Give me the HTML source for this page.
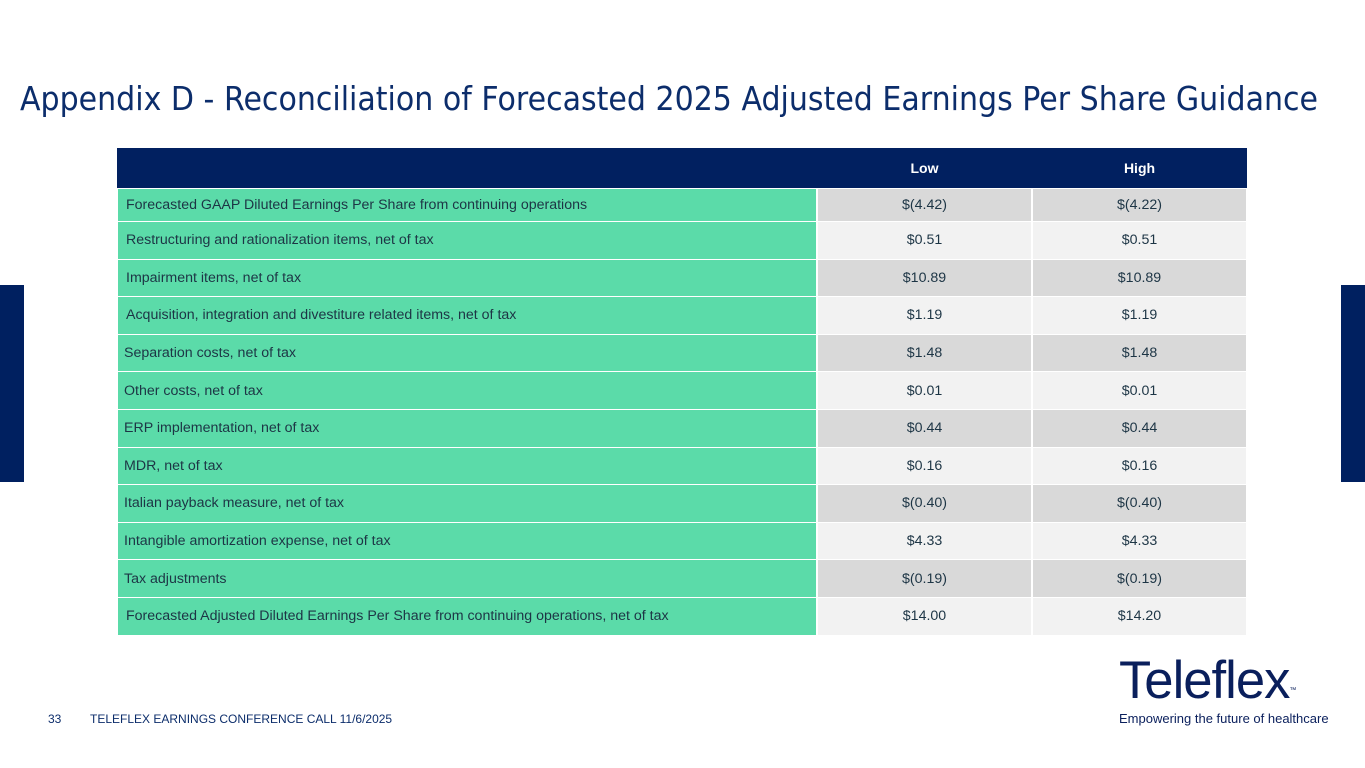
<!DOCTYPE html>
<html><head><meta charset="utf-8"><style>
body{margin:0;width:1365px;height:768px;background:#fff;position:relative;overflow:hidden;font-family:"Liberation Sans",sans-serif}
.title{position:absolute;left:20px;top:79px;font-size:33px;color:#0c2d6b;white-space:nowrap;font-family:"DejaVu Sans","Liberation Sans",sans-serif;transform-origin:0 0}
.bar{position:absolute;background:#002060;width:24px;top:285px;height:197px}
table{position:absolute;left:116px;top:148px;border-collapse:collapse;font-size:14.2px;color:#1d3545}
td{padding:0;height:36.6px;border:2px solid #fff;border-top-width:1px;border-bottom-width:1px;box-sizing:content-box}
tr.first td{height:32px}
th{background:#012060;color:#fff;height:38px;font-weight:bold;font-size:14px;border:none}
td.l{background:#5bdba9;width:688px;padding-left:8px}
td.v{width:213px;text-align:center}
tr:nth-child(even) td.v{background:#d9d9d9}
tr:nth-child(odd) td.v{background:#f2f2f2}
.foot{position:absolute;top:712px;font-size:12px;color:#0c2d6b}
</style></head><body>
<div class="title" id="ttl">Appendix D - Reconciliation of Forecasted 2025 Adjusted Earnings Per Share Guidance</div>
<div class="bar" style="left:0"></div>
<div class="bar" style="left:1341px"></div>
<table>
<tr><th style="width:698px"></th><th>Low</th><th>High</th></tr>
<tr class="first"><td class="l">Forecasted GAAP Diluted Earnings Per Share from continuing operations</td><td class="v">$(4.42)</td><td class="v">$(4.22)</td></tr>
<tr><td class="l">Restructuring and rationalization items, net of tax</td><td class="v">$0.51</td><td class="v">$0.51</td></tr>
<tr><td class="l">Impairment items, net of tax</td><td class="v">$10.89</td><td class="v">$10.89</td></tr>
<tr><td class="l">Acquisition, integration and divestiture related items, net of tax</td><td class="v">$1.19</td><td class="v">$1.19</td></tr>
<tr><td class="l" style="padding-left:6px">Separation costs, net of tax</td><td class="v">$1.48</td><td class="v">$1.48</td></tr>
<tr><td class="l" style="padding-left:6px">Other costs, net of tax</td><td class="v">$0.01</td><td class="v">$0.01</td></tr>
<tr><td class="l" style="padding-left:6px">ERP implementation, net of tax</td><td class="v">$0.44</td><td class="v">$0.44</td></tr>
<tr><td class="l" style="padding-left:6px">MDR, net of tax</td><td class="v">$0.16</td><td class="v">$0.16</td></tr>
<tr><td class="l" style="padding-left:6px">Italian payback measure, net of tax</td><td class="v">$(0.40)</td><td class="v">$(0.40)</td></tr>
<tr><td class="l" style="padding-left:6px">Intangible amortization expense, net of tax</td><td class="v">$4.33</td><td class="v">$4.33</td></tr>
<tr><td class="l" style="padding-left:6px">Tax adjustments</td><td class="v">$(0.19)</td><td class="v">$(0.19)</td></tr>
<tr><td class="l">Forecasted Adjusted Diluted Earnings Per Share from continuing operations, net of tax</td><td class="v">$14.00</td><td class="v">$14.20</td></tr>
</table>
<div class="foot" style="left:48px">33</div>
<div class="foot" style="left:90px">TELEFLEX EARNINGS CONFERENCE CALL 11/6/2025</div>
<div style="position:absolute;left:1119px;top:654px;color:#0a1f5c">
<div id="logo" style="font-size:53px;font-weight:normal;letter-spacing:-1px;line-height:54px;white-space:nowrap;transform-origin:0 0">Teleflex<span style="font-size:7px;vertical-align:top;letter-spacing:0;position:relative;top:10px">™</span></div>
<div style="font-size:13px;margin-top:3px;white-space:nowrap">Empowering the future of healthcare</div>
</div>
<script>
var t=document.getElementById('ttl');var w=t.getBoundingClientRect().width;t.style.transform='scaleX('+(1298/w)+')';
var l=document.getElementById('logo');var lw=l.getBoundingClientRect().width;l.style.transform='scaleX('+(208/lw)+')';
</script>
</body></html>
